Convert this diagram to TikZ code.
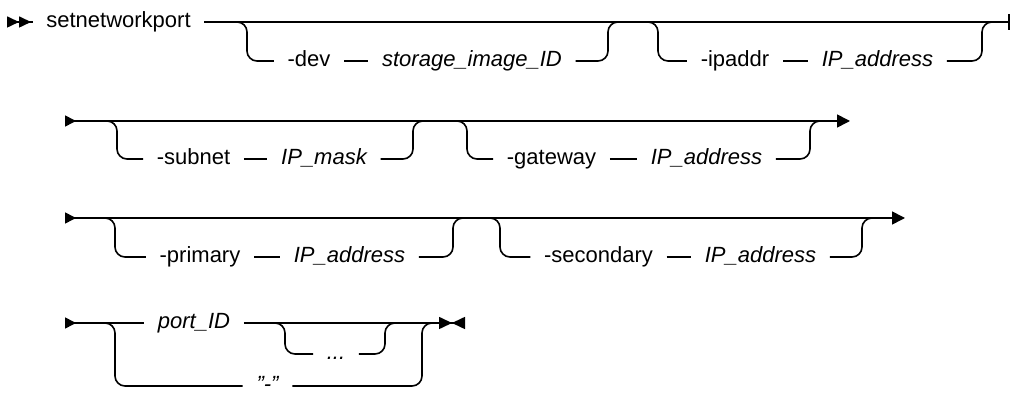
\documentclass[tikz,border=0pt]{standalone}
\usepackage{fontspec}
\setmainfont{Liberation Sans}
\usetikzlibrary{arrows.meta}

\begin{document}
\begin{tikzpicture}[x=0.5pt, y=-0.5pt, line width=0.8pt,
    rr/.style={rounded corners=5pt},
    txt/.style={inner xsep=6.5pt, inner ysep=0pt, text height=0.75em,
                text depth=0.21em, font=\fontsize{11}{13}\selectfont},
    kwd/.style={txt},
    var/.style={txt, font=\fontsize{11}{13}\selectfont\itshape},
    dblstart/.style={arrows={Triangle[reversed,length=6pt,width=5.5pt,sep=0pt]Triangle[reversed,length=6pt,width=5.5pt]-}},
    rowstart/.style={arrows={Triangle[reversed,length=5.5pt,width=5.5pt]-}},
    rowline/.style={arrows={Triangle[reversed,length=5.5pt,width=5.5pt]-Triangle[length=6.5pt,width=6.5pt]}},
    stopend/.style={arrows={-Triangle[length=6.5pt,width=6pt,sep=0pt]Triangle[reversed,length=6.5pt,width=6pt]}},
  ]
    \useasboundingbox (0,0) rectangle (1011,399);

    % Main lines
    \coordinate (s1) at (7,22);
    \coordinate (e1) at (1010,22);
    \node[kwd] (cmd) at (118.5,22) {setnetworkport};
    \draw[dblstart] (s1) -- (cmd);
    \draw[-{Bar[width=8pt]}] (cmd) -- (e1);

    \coordinate (s2) at (65,121);
    \coordinate (e2) at (850,121);
    \draw[rowline] (s2) -- (e2);

    \coordinate (s3) at (65,218);
    \coordinate (e3) at (905,218);
    \draw[rowline] (s3) -- (e3);

    % Optional parameters
    \foreach \nm/\yt/\yb/\xl/\xr/\kx/\kw/\vx/\vv in {%
      dev/22/61/237/618/309/-dev/472/storage\_image\_ID,
      ip/22/61/648/992/735/-ipaddr/877.5/IP\_address,
      sub/121/159/107/423/193.5/-subnet/324/IP\_mask,
      gw/121/159/457/820/551.5/-gateway/706.5/IP\_address,
      pri/218/257/105/463/200/-primary/349.5/IP\_address,
      sec/218/257/490/872/598.5/-secondary/760.5/IP\_address}{
      \coordinate (l\nm) at (\xl,\yt);
      \coordinate (r\nm) at (\xr,\yt);
      \node[kwd] (k\nm) at (\kx,\yb) {\kw};
      \node[var] (v\nm) at (\vx,\yb) {\vv};
      \draw[rr] (l\nm) -- ++(10,0) |- (k\nm);
      \draw (k\nm) -- (v\nm);
      \draw[rr] (v\nm) -| ([xshift=-5pt]r\nm) -- (r\nm);
    }

    % Port list
    \coordinate (s4) at (65,323);
    \coordinate (e4) at (465,323);
    \node[var] (port) at (194,323) {port\_ID};
    \draw[rowstart] (s4) -- (port);
    \draw[stopend] (port) -- (e4);

    \coordinate (lrep) at (275,323);
    \coordinate (rrep) at (395,323);
    \node[var] (rep) at (336,354) {...};
    \draw[rr] (lrep) -- ++(10,0) |- (rep);
    \draw[rr] (rep) -| ([xshift=-5pt]rrep) -- (rrep);

    \coordinate (lstd) at (105,323);
    \coordinate (rstd) at (432,323);
    \node[var] (stdin) at (267.5,386) {\symbol{"22}-\symbol{"22}};
    \draw[rr] (lstd) -- ++(10,0) |- (stdin);
    \draw[rr] (stdin) -| ([xshift=-5pt]rstd) -- (rstd);
\end{tikzpicture}
\end{document}
